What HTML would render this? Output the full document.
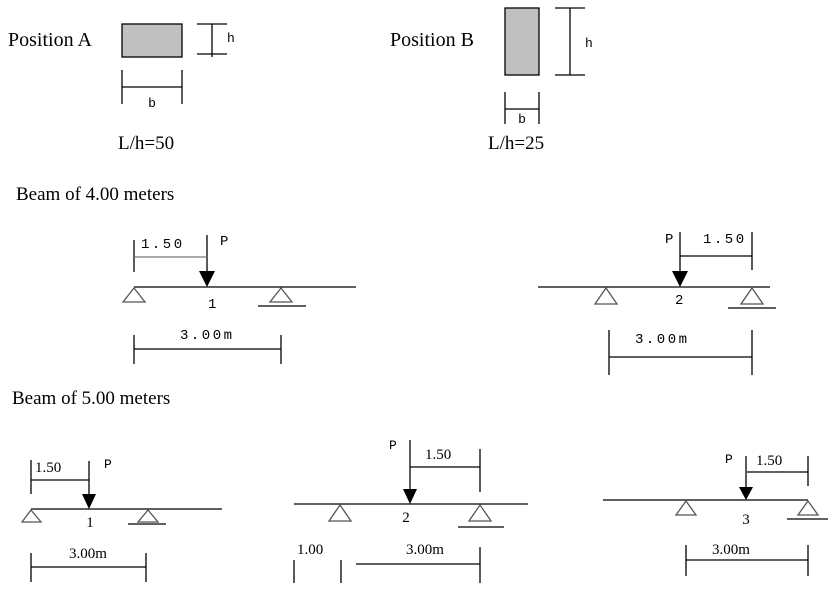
<!DOCTYPE html>
<html><head><style>html,body{margin:0;padding:0;background:#fff}svg{display:block}</style></head><body>
<svg width="837" height="598" viewBox="0 0 837 598" xmlns="http://www.w3.org/2000/svg">
<defs><style>
.s{font-family:"Liberation Serif",serif;fill:#000}
.m{font-family:"Liberation Mono",monospace;fill:#000;font-size:14px;letter-spacing:2.5px}
.h{font-family:"Liberation Mono",monospace;fill:#000;font-size:13px}
line{stroke:#000;stroke-width:1.3}
.tri{fill:#fff;stroke:#555;stroke-width:1.3}
</style></defs>
<text class="s" x="8" y="46" font-size="20">Position A</text>
<rect x="122" y="24" width="60" height="33" fill="#c0c0c0" stroke="#000" stroke-width="1.3"/>
<line x1="197" y1="24" x2="227" y2="24"/><line x1="197" y1="54" x2="227" y2="54"/><line x1="212" y1="24" x2="212" y2="57"/>
<text class="h" x="227" y="42">h</text>
<line x1="122" y1="70" x2="122" y2="104"/><line x1="182" y1="70" x2="182" y2="104"/><line x1="122" y1="87" x2="182" y2="87"/>
<text class="h" x="152" y="107" text-anchor="middle">b</text>
<text class="s" x="118" y="149" font-size="19">L/h=50</text>
<text class="s" x="390" y="46" font-size="20">Position B</text>
<rect x="505" y="8" width="34" height="67" fill="#c0c0c0" stroke="#000" stroke-width="1.3"/>
<line x1="555" y1="8" x2="585" y2="8"/><line x1="555" y1="75" x2="585" y2="75"/><line x1="570" y1="8" x2="570" y2="75"/>
<text class="h" x="585" y="47">h</text>
<line x1="505" y1="92" x2="505" y2="124"/><line x1="539" y1="92" x2="539" y2="124"/><line x1="505" y1="109" x2="539" y2="109"/>
<text class="h" x="522" y="123" text-anchor="middle">b</text>
<text class="s" x="488" y="149" font-size="19">L/h=25</text>
<text class="s" x="16" y="200" font-size="19">Beam of 4.00 meters</text>
<line x1="134" y1="287" x2="356" y2="287"/>
<line x1="207" y1="235" x2="207" y2="272"/><polygon points="199,271 215,271 207,287" fill="#000"/>
<line x1="134" y1="240" x2="134" y2="272"/><line x1="134" y1="257" x2="207" y2="257" style="stroke:#777"/>
<text class="m" x="141" y="248">1.50</text><text class="m" x="220" y="245">P</text>
<polygon class="tri" points="134,288 123,302 145,302"/><polygon class="tri" points="281,288 270,302 292,302"/>
<line x1="258" y1="306" x2="306" y2="306"/>
<text class="m" x="208" y="308">1</text>
<line x1="134" y1="335" x2="134" y2="364"/><line x1="281" y1="335" x2="281" y2="364"/><line x1="134" y1="349" x2="281" y2="349"/>
<text class="m" x="180" y="339">3.00m</text>
<line x1="538" y1="287" x2="770" y2="287"/>
<line x1="680" y1="232" x2="680" y2="272"/><polygon points="672,271 688,271 680,287" fill="#000"/>
<line x1="680" y1="256" x2="752" y2="256"/><line x1="752" y1="232" x2="752" y2="270"/>
<text class="m" x="703" y="243">1.50</text><text class="m" x="665" y="243">P</text>
<polygon class="tri" points="606,288 595,304 617,304"/><polygon class="tri" points="752,288 741,304 763,304"/>
<line x1="728" y1="308" x2="776" y2="308"/>
<text class="m" x="675" y="304">2</text>
<line x1="609" y1="330" x2="609" y2="375"/><line x1="752" y1="330" x2="752" y2="375"/><line x1="609" y1="357" x2="752" y2="357"/>
<text class="m" x="635" y="343">3.00m</text>
<text class="s" x="12" y="404" font-size="19">Beam of 5.00 meters</text>
<line x1="31" y1="509" x2="222" y2="509"/>
<line x1="89" y1="461" x2="89" y2="495"/><polygon points="82,494 96,494 89,509" fill="#000"/>
<line x1="31" y1="460" x2="31" y2="494"/><line x1="31" y1="480" x2="89" y2="480"/>
<text class="s" x="35" y="472" font-size="15">1.50</text><text class="h" x="104" y="468">P</text>
<polygon class="tri" points="31,510 22,522 41,522"/><polygon class="tri" points="148,510 138,522 158,522"/>
<line x1="128" y1="524" x2="166" y2="524"/>
<text class="s" x="90" y="527" font-size="15" text-anchor="middle">1</text>
<line x1="31" y1="553" x2="31" y2="582"/><line x1="146" y1="553" x2="146" y2="582"/><line x1="31" y1="567" x2="146" y2="567"/>
<text class="s" x="88" y="558" font-size="15" text-anchor="middle">3.00m</text>
<line x1="294" y1="504" x2="528" y2="504"/>
<line x1="410" y1="440" x2="410" y2="490"/><polygon points="403,489 417,489 410,504" fill="#000"/>
<line x1="480" y1="449" x2="480" y2="492"/><line x1="410" y1="467" x2="480" y2="467"/>
<text class="s" x="425" y="459" font-size="15">1.50</text><text class="h" x="389" y="449">P</text>
<polygon class="tri" points="340,505 329,521 351,521"/><polygon class="tri" points="480,505 469,521 491,521"/>
<line x1="458" y1="527" x2="504" y2="527"/>
<text class="s" x="406" y="522" font-size="15" text-anchor="middle">2</text>
<text class="s" x="297" y="554" font-size="15">1.00</text>
<line x1="294" y1="560" x2="294" y2="583"/><line x1="341" y1="560" x2="341" y2="583"/>
<line x1="356" y1="564" x2="480" y2="564"/><line x1="480" y1="547" x2="480" y2="583"/>
<text class="s" x="425" y="554" font-size="15" text-anchor="middle">3.00m</text>
<line x1="603" y1="500" x2="808" y2="500"/>
<line x1="746" y1="456" x2="746" y2="488"/><polygon points="739,487 753,487 746,500" fill="#000"/>
<line x1="747" y1="472" x2="808" y2="472"/><line x1="808" y1="456" x2="808" y2="486"/>
<text class="s" x="756" y="465" font-size="15">1.50</text><text class="h" x="725" y="463">P</text>
<polygon class="tri" points="686,501 676,515 696,515"/><polygon class="tri" points="808,501 798,515 818,515"/>
<line x1="787" y1="519" x2="828" y2="519"/>
<text class="s" x="746" y="524" font-size="15" text-anchor="middle">3</text>
<line x1="686" y1="545" x2="686" y2="576"/><line x1="808" y1="545" x2="808" y2="576"/><line x1="686" y1="560" x2="808" y2="560"/>
<text class="s" x="731" y="554" font-size="15" text-anchor="middle">3.00m</text>
</svg>
</body></html>
